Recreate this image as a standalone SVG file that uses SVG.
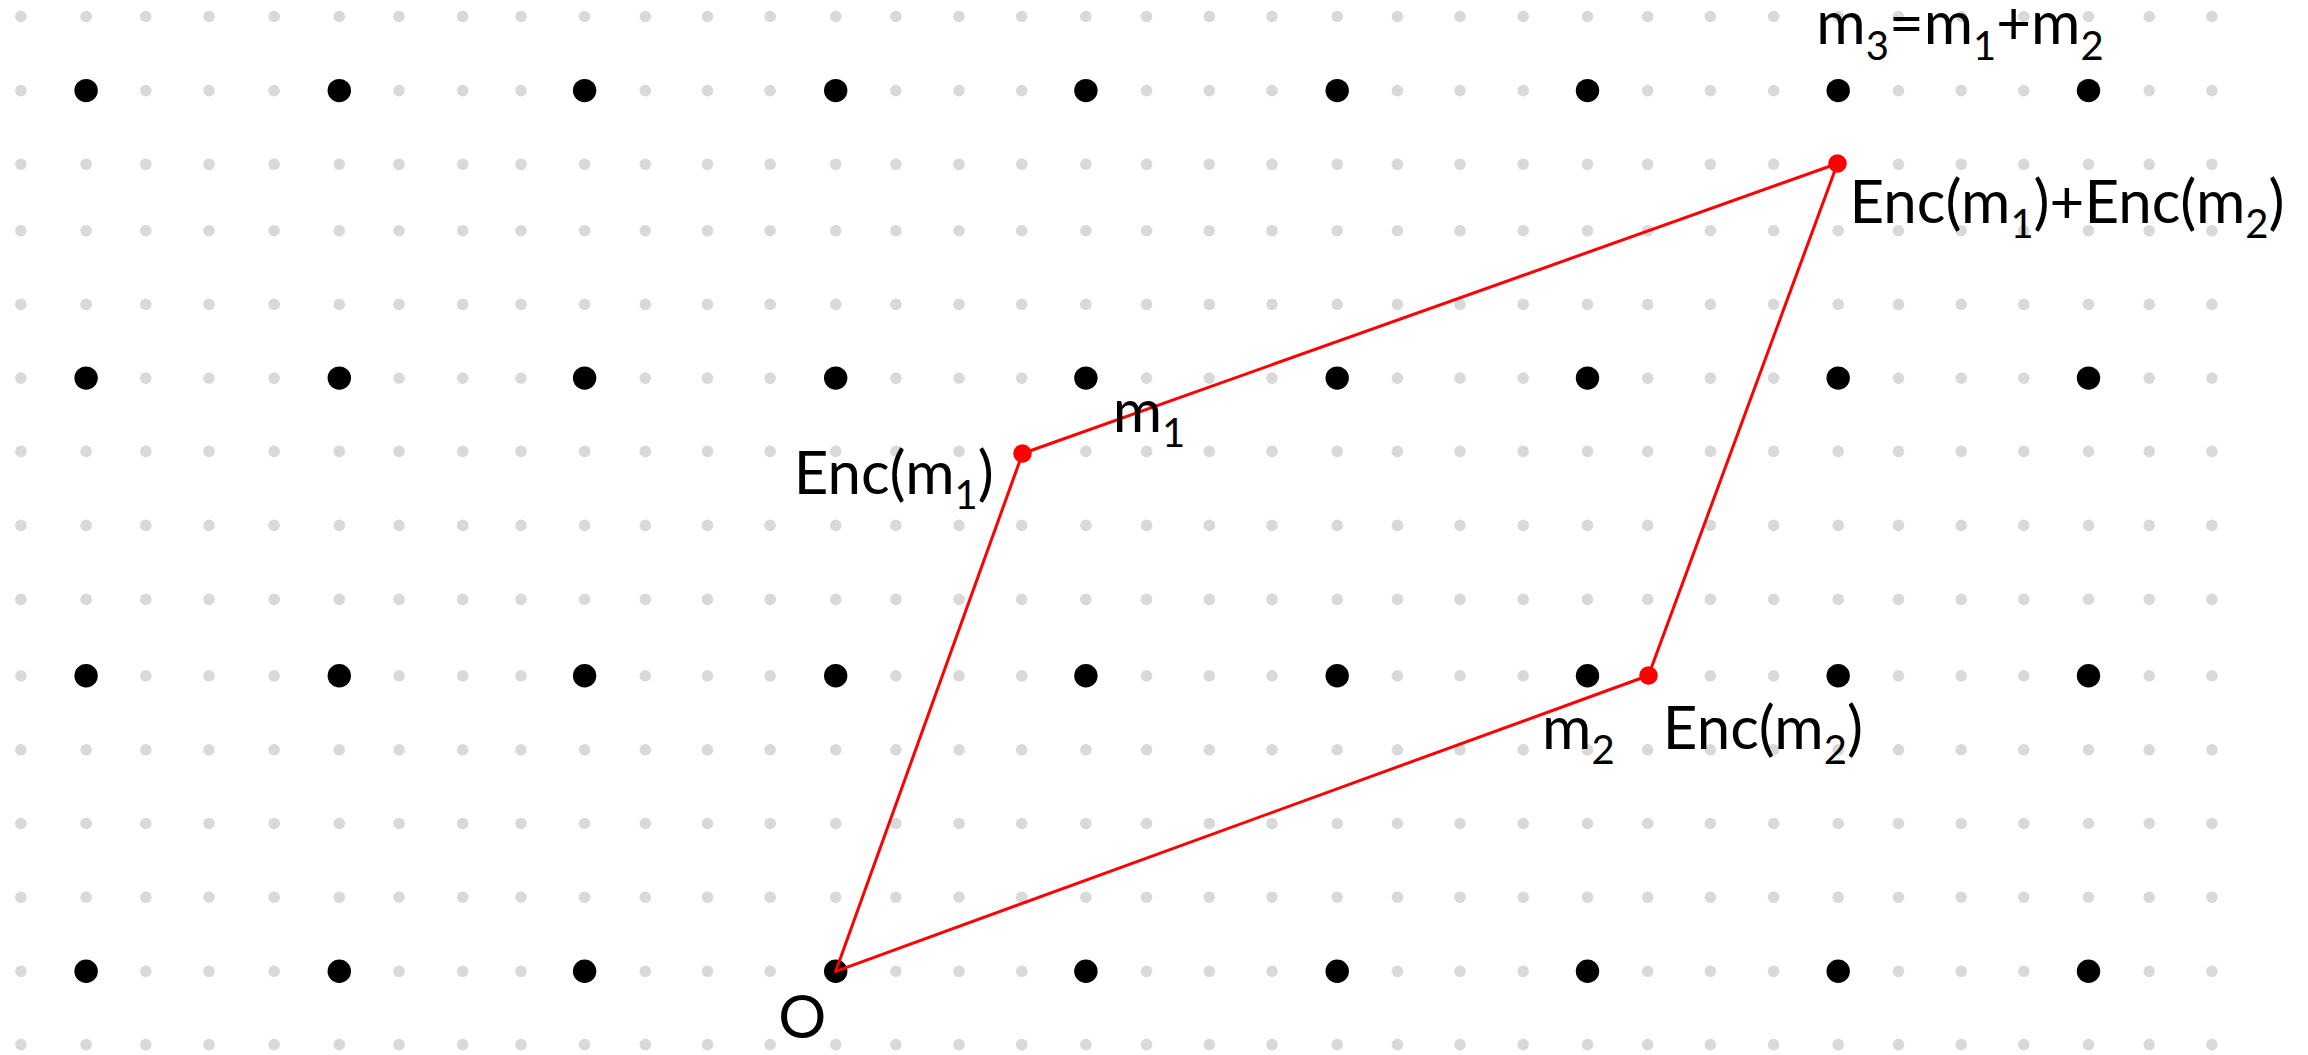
<svg xmlns="http://www.w3.org/2000/svg" xmlns:xlink="http://www.w3.org/1999/xlink" width="2308" height="1055" viewBox="0 0 2308 1055">
<style>
.g{fill:#D9D9D9}
.b{fill:#000000}
.rd{fill:#FF0000}
.edge{stroke:#FF0000;stroke-width:3;fill:none;stroke-linecap:round}
.lbl{font-family:Lato,"Open Sans","Liberation Sans",sans-serif;font-size:60px;fill:#000000;text-anchor:middle}
.sub{font-size:40px}
</style>
<defs>
<g id="grayRow" class="g">
<circle cx="20.9" cy="0" r="5.8"/><circle cx="86.1" cy="0" r="5.8"/><circle cx="145.8" cy="0" r="5.8"/><circle cx="209" cy="0" r="5.8"/><circle cx="274.1" cy="0" r="5.8"/><circle cx="339.3" cy="0" r="5.8"/><circle cx="399" cy="0" r="5.8"/><circle cx="462.7" cy="0" r="5.8"/><circle cx="521" cy="0" r="5.8"/><circle cx="584.6" cy="0" r="5.8"/><circle cx="645.3" cy="0" r="5.8"/><circle cx="707.5" cy="0" r="5.8"/><circle cx="770.1" cy="0" r="5.8"/><circle cx="835.7" cy="0" r="5.8"/><circle cx="895.9" cy="0" r="5.8"/><circle cx="959" cy="0" r="5.8"/><circle cx="1021.7" cy="0" r="5.8"/><circle cx="1085.9" cy="0" r="5.8"/><circle cx="1146.6" cy="0" r="5.8"/><circle cx="1209.3" cy="0" r="5.8"/><circle cx="1272" cy="0" r="5.8"/><circle cx="1337.2" cy="0" r="5.8"/><circle cx="1397.4" cy="0" r="5.8"/><circle cx="1460" cy="0" r="5.8"/><circle cx="1523.2" cy="0" r="5.8"/><circle cx="1587.5" cy="0" r="5.8"/><circle cx="1647.7" cy="0" r="5.8"/><circle cx="1710.4" cy="0" r="5.8"/><circle cx="1773.6" cy="0" r="5.8"/><circle cx="1838.2" cy="0" r="5.8"/><circle cx="1898.5" cy="0" r="5.8"/><circle cx="1961.2" cy="0" r="5.8"/><circle cx="2023.8" cy="0" r="5.8"/><circle cx="2088.5" cy="0" r="5.8"/><circle cx="2149.2" cy="0" r="5.8"/><circle cx="2211.9" cy="0" r="5.8"/>
</g>
<g id="blackRow" class="b">
<circle cx="86.1" cy="0" r="11.7"/><circle cx="339.3" cy="0" r="11.7"/><circle cx="584.6" cy="0" r="11.7"/><circle cx="835.7" cy="0" r="11.7"/><circle cx="1085.9" cy="0" r="11.7"/><circle cx="1337.2" cy="0" r="11.7"/><circle cx="1587.5" cy="0" r="11.7"/><circle cx="1838.2" cy="0" r="11.7"/><circle cx="2088.5" cy="0" r="11.7"/>
</g>
</defs>
<rect x="0" y="0" width="2308" height="1055" fill="#FFFFFF"/>
<g id="grid-fine">
<use xlink:href="#grayRow" href="#grayRow" y="16.5"/>
<use xlink:href="#grayRow" href="#grayRow" y="90.6"/>
<use xlink:href="#grayRow" href="#grayRow" y="164.3"/>
<use xlink:href="#grayRow" href="#grayRow" y="230.7"/>
<use xlink:href="#grayRow" href="#grayRow" y="304.4"/>
<use xlink:href="#grayRow" href="#grayRow" y="378.1"/>
<use xlink:href="#grayRow" href="#grayRow" y="451.4"/>
<use xlink:href="#grayRow" href="#grayRow" y="525.4"/>
<use xlink:href="#grayRow" href="#grayRow" y="599.4"/>
<use xlink:href="#grayRow" href="#grayRow" y="675.8"/>
<use xlink:href="#grayRow" href="#grayRow" y="749.8"/>
<use xlink:href="#grayRow" href="#grayRow" y="823.5"/>
<use xlink:href="#grayRow" href="#grayRow" y="897.2"/>
<use xlink:href="#grayRow" href="#grayRow" y="971.3"/>
<use xlink:href="#grayRow" href="#grayRow" y="1044.6"/>
</g>
<g id="lattice">
<use xlink:href="#blackRow" href="#blackRow" y="90.6"/>
<use xlink:href="#blackRow" href="#blackRow" y="378.1"/>
<use xlink:href="#blackRow" href="#blackRow" y="675.8"/>
<use xlink:href="#blackRow" href="#blackRow" y="971.3"/>
</g>
<g id="connectors">
<line class="edge" x1="835.7" y1="971.3" x2="1022.5" y2="453.5"/>
<line class="edge" x1="835.7" y1="971.3" x2="1648.5" y2="675.5"/>
<line class="edge" x1="1022.5" y1="453.5" x2="1837.5" y2="163.5"/>
<line class="edge" x1="1648.5" y1="675.5" x2="1837.5" y2="163.5"/>
</g>
<g id="node-enc-m1">
<circle class="rd" cx="1022.5" cy="453.5" r="9.3"/>
<text class="lbl" x="893.7" y="494">Enc(m<tspan class="sub" dy="15">1</tspan><tspan dy="-15">)</tspan></text>
<text class="lbl" x="1149" y="431.7">m<tspan class="sub" dy="15">1</tspan></text>
</g>
<g id="node-enc-m2">
<circle class="rd" cx="1648.5" cy="675.5" r="9.3"/>
<text class="lbl" x="1762.9" y="749">Enc(m<tspan class="sub" dy="15">2</tspan><tspan dy="-15">)</tspan></text>
<text class="lbl" x="1578.4" y="749">m<tspan class="sub" dy="15">2</tspan></text>
</g>
<g id="node-sum">
<circle class="rd" cx="1837.5" cy="163.5" r="9.3"/>
<text class="lbl" x="2067" y="222.7">Enc(m<tspan class="sub" dy="15">1</tspan><tspan dy="-15">)+Enc(m</tspan><tspan class="sub" dy="15">2</tspan><tspan dy="-15">)</tspan></text>
<text class="lbl" x="1960" y="44">m<tspan class="sub" dy="16">3</tspan><tspan dy="-16">=m</tspan><tspan class="sub" dy="16">1</tspan><tspan dy="-16">+m</tspan><tspan class="sub" dy="16">2</tspan></text>
</g>
<g id="node-origin">
<text class="lbl" x="802.2" y="1038.3">O</text>
</g>
</svg>
